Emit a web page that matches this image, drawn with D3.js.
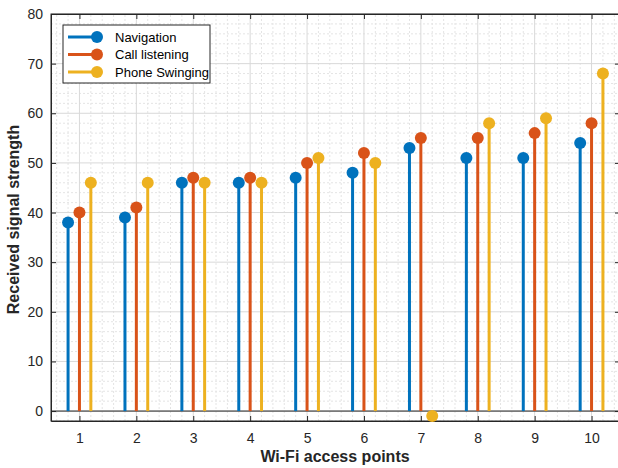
<!DOCTYPE html>
<html>
<head>
<meta charset="utf-8">
<script src="https://cdn.jsdelivr.net/npm/d3@7"></script>
<style>
  body { margin: 0; background: #fff; }
  text { font-family: "Liberation Sans", Arial, sans-serif; }
</style>
</head>
<body>
<div id="viz"></div>
<script>
// chart data
const accessPoints = [1, 2, 3, 4, 5, 6, 7, 8, 9, 10]
const navigation = [38, 39, 46, 46, 47, 48, 53, 51, 51, 54]
const callListening = [40, 41, 47, 47, 50, 52, 55, 55, 56, 58]
const phoneSwinging = [46, 46, 46, 46, 51, 50, -1, 58, 59, 68]
const seriesNames = ["Navigation", "Call listening", "Phone Swinging"]
const seriesColors = ["#0072BD", "#D95319", "#EDB120"]
const seriesOffsets = [-0.2, 0, 0.2]
const yTicks = [0, 10, 20, 30, 40, 50, 60, 70, 80]

const width = 618
const height = 468
const margin = { top: 14, right: -2, bottom: 47, left: 51 }

const svg = d3.select("#viz").append("svg")
  .attr("width", width)
  .attr("height", height)

const x = d3.scaleLinear().domain([0.5, 10.5]).range([margin.left, width - margin.right])
const y = d3.scaleLinear().domain([-2, 80]).range([height - margin.bottom, margin.top])

const x0 = x.range()[0], x1 = x.range()[1]
const y0 = y.range()[0], y1 = y.range()[1]

// minor grid
const minorX = d3.range(0.6, 10.5, 0.2).filter(v => Math.abs(v - Math.round(v)) > 0.01)
const minorY = d3.range(-2, 80, 2).filter(v => v % 10 !== 0)
svg.append("g").selectAll("line").data(minorX).enter().append("line")
  .attr("x1", d => x(d)).attr("x2", d => x(d)).attr("y1", y0).attr("y2", y1)
  .attr("stroke", "#e4e4e4").attr("stroke-width", 1).attr("stroke-dasharray", "2,2")
svg.append("g").selectAll("line").data(minorY).enter().append("line")
  .attr("x1", x0).attr("x2", x1).attr("y1", d => y(d)).attr("y2", d => y(d))
  .attr("stroke", "#e4e4e4").attr("stroke-width", 1).attr("stroke-dasharray", "2,2")

// major grid
svg.append("g").selectAll("line").data(accessPoints).enter().append("line")
  .attr("x1", d => x(d)).attr("x2", d => x(d)).attr("y1", y0).attr("y2", y1)
  .attr("stroke", "#d9d9d9").attr("stroke-width", 1)
svg.append("g").selectAll("line").data(yTicks).enter().append("line")
  .attr("x1", x0).attr("x2", x1).attr("y1", d => y(d)).attr("y2", d => y(d))
  .attr("stroke", "#d9d9d9").attr("stroke-width", 1)

// axes
svg.append("g")
  .attr("transform", `translate(0,${y0})`)
  .call(d3.axisBottom(x).tickValues(accessPoints).tickSizeInner(-5).tickSizeOuter(0).tickPadding(12))
svg.append("g")
  .attr("transform", `translate(${x0},0)`)
  .call(d3.axisLeft(y).tickValues(yTicks).tickSizeInner(-5).tickSizeOuter(0).tickPadding(8))
svg.append("g")
  .attr("transform", `translate(0,${y1})`)
  .call(d3.axisTop(x).tickValues(accessPoints).tickSizeInner(-5).tickSizeOuter(0).tickFormat(""))
svg.append("g")
  .attr("transform", `translate(${x1},0)`)
  .call(d3.axisRight(y).tickValues(yTicks).tickSizeInner(-5).tickSizeOuter(0).tickFormat(""))

svg.selectAll(".domain").attr("stroke", "#262626")
svg.selectAll(".tick line").attr("stroke", "#262626")
svg.selectAll(".tick text").attr("fill", "#262626").style("font-size", "14px")
svg.append("rect")
  .attr("x", x0).attr("y", y1).attr("width", x1 - x0).attr("height", y0 - y1)
  .attr("fill", "none").attr("stroke", "#262626").attr("stroke-width", 1)

// baseline
svg.append("line")
  .attr("x1", x0).attr("x2", x1).attr("y1", y(0)).attr("y2", y(0))
  .attr("stroke", "#262626").attr("stroke-width", 1)

// stems
const series = [navigation, callListening, phoneSwinging]
series.forEach((values, i) => {
  const g = svg.append("g")
  const pts = values.map((v, j) => ({ xv: accessPoints[j] + seriesOffsets[i], yv: v }))
  g.selectAll("line").data(pts).enter().append("line")
    .attr("x1", d => x(d.xv)).attr("x2", d => x(d.xv))
    .attr("y1", y(0)).attr("y2", d => y(d.yv))
    .attr("stroke", seriesColors[i]).attr("stroke-width", 3)
  g.selectAll("circle").data(pts).enter().append("circle")
    .attr("cx", d => x(d.xv)).attr("cy", d => y(d.yv)).attr("r", 6)
    .attr("fill", seriesColors[i])
})

// axis titles
svg.append("text")
  .attr("x", 335).attr("y", 462)
  .attr("text-anchor", "middle")
  .style("font-size", "16px").style("font-weight", "bold").attr("fill", "#262626")
  .text("Wi-Fi access points")
svg.append("text")
  .attr("transform", `translate(19,${(y0 + y1) / 2 + 2}) rotate(-90)`)
  .attr("text-anchor", "middle")
  .style("font-size", "16px").style("font-weight", "bold").attr("fill", "#262626")
  .text("Received signal strength")

// legend
const legend = svg.append("g").attr("transform", "translate(63,25)")
legend.append("rect")
  .attr("width", 147).attr("height", 58)
  .attr("fill", "#fff").attr("stroke", "#262626").attr("stroke-width", 1)
seriesNames.forEach((name, i) => {
  const ly = 12 + i * 17.5
  legend.append("line").attr("x1", 5).attr("x2", 34).attr("y1", ly).attr("y2", ly)
    .attr("stroke", seriesColors[i]).attr("stroke-width", 3)
  legend.append("circle").attr("cx", 34).attr("cy", ly).attr("r", 6).attr("fill", seriesColors[i])
  legend.append("text").attr("x", 52).attr("y", ly + 4.5)
    .style("font-size", "13px").attr("fill", "#000").text(name)
})
</script>
</body>
</html>
